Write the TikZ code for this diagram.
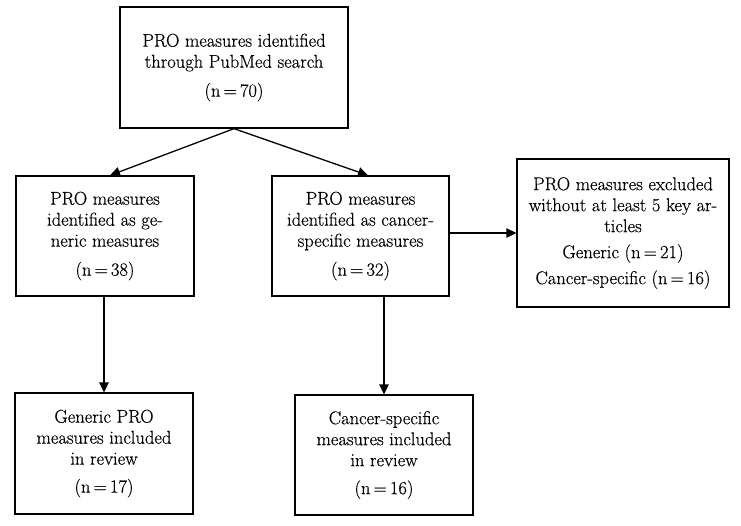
\documentclass[tikz,border=0pt]{standalone}
\usepackage{fontspec}
\setmainfont{Latin Modern Roman}[FakeBold=0.4]
\usetikzlibrary{arrows.meta}
\newcommand{\eqn}[1]{(n\,=\,#1)}
\begin{document}
\begin{tikzpicture}[x=1pt,y=-1pt,
  box/.style={draw, line width=1.3pt, align=center, inner sep=0pt,
    font=\fontsize{18.5}{21}\selectfont},
  arr/.style={-{Triangle[length=10pt,width=9.5pt]}, line width=1.3pt}]
\useasboundingbox (0,0) rectangle (741,525);
\node[box, minimum width=228pt, minimum height=121pt] (top) at (234,67.5)
  {PRO measures identified\\through PubMed search\\[8pt]\eqn{70}};
\node[box, minimum width=178pt, minimum height=120pt] (gen) at (105,236)
  {PRO measures\\identified as ge-\\neric measures\\[8pt]\eqn{38}};
\node[box, minimum width=177pt, minimum height=120pt] (can) at (360.5,236)
  {PRO measures\\identified as cancer-\\specific measures\\[8pt]\eqn{32}};
\node[box, minimum width=212pt, minimum height=148pt] (exc) at (623,233)
  {PRO measures excluded\\without at least 5 key ar-\\ticles\\[5pt]Generic \eqn{21}\\[5pt]Cancer-specific \eqn{16}};
\node[box, minimum width=178pt, minimum height=121pt] (bl) at (104,453.5)
  {Generic PRO\\measures included\\in review\\[7pt]\eqn{17}};
\node[box, minimum width=178pt, minimum height=120pt] (bm) at (384,455)
  {Cancer-specific\\measures included\\in review\\[7pt]\eqn{16}};
\draw[arr] (top.south) -- ([xshift=5pt]gen.north);
\draw[arr] (top.south) -- ([xshift=7.5pt]can.north);
\draw[arr] (gen.south -| bl.north) -- (bl.north);
\draw[arr] (can.south -| bm.north) -- (bm.north);
\draw[arr] (can.east |- exc.west) -- (exc.west);
\end{tikzpicture}
\end{document}
